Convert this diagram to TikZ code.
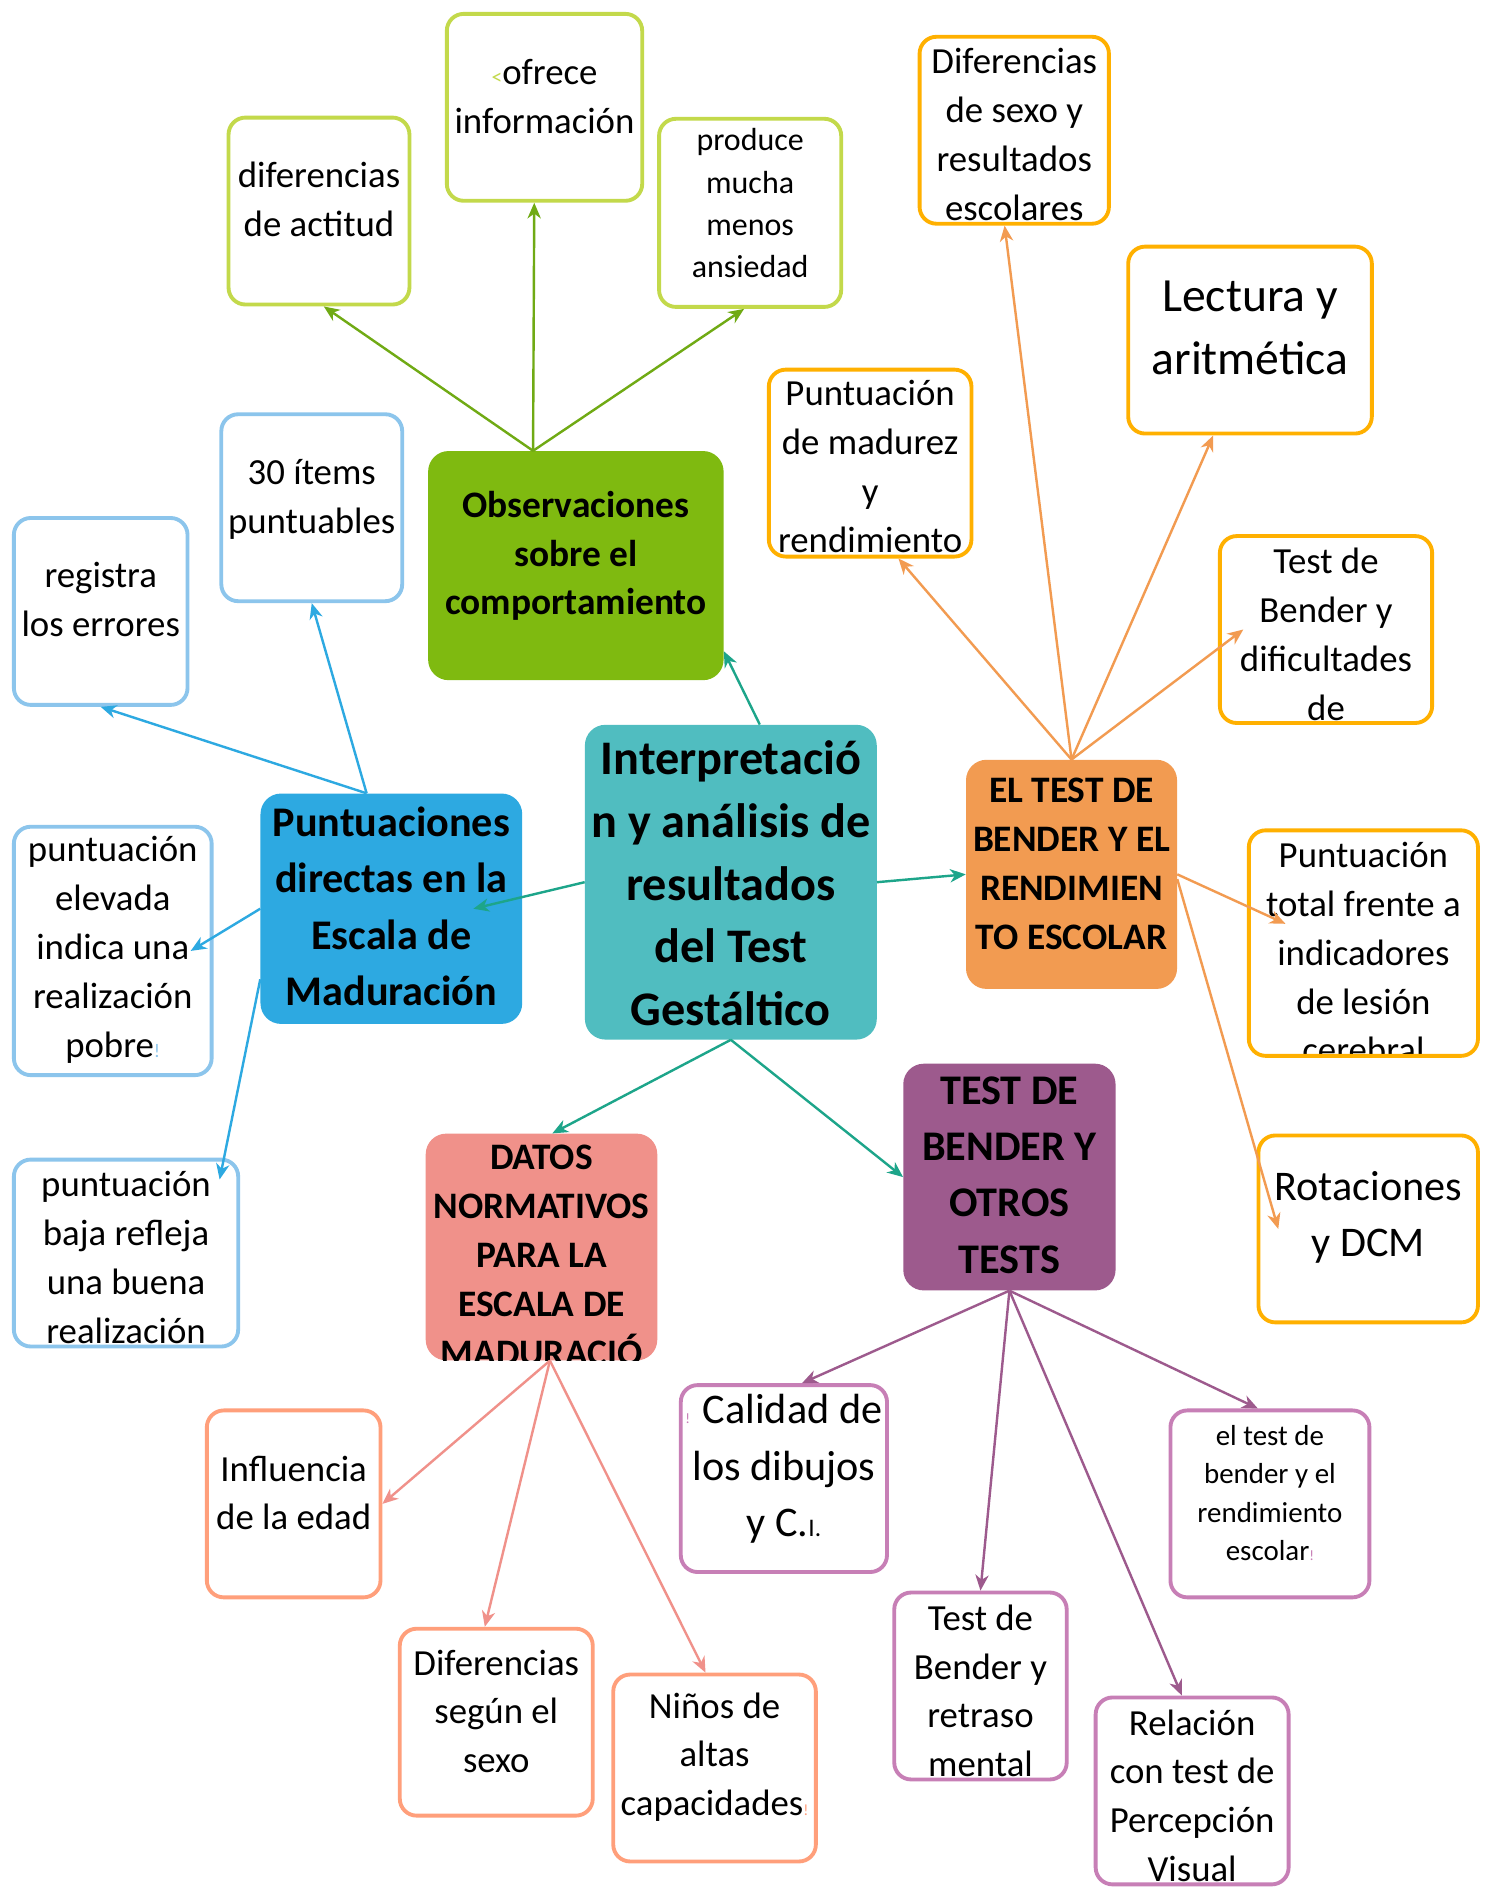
\documentclass[tikz,border=0pt]{standalone}
\usepackage{fontspec}
\setmainfont{Carlito}
\usetikzlibrary{arrows.meta}

\definecolor{obsfill}{RGB}{127,186,16}
\definecolor{obsline}{RGB}{112,170,20}
\definecolor{obsleaf}{RGB}{195,217,75}
\definecolor{cenfill}{RGB}{80,189,192}
\definecolor{cenline}{RGB}{29,165,138}
\definecolor{puntfill}{RGB}{45,169,225}
\definecolor{puntleaf}{RGB}{140,197,236}
\definecolor{bendfill}{RGB}{242,155,81}
\definecolor{bendleaf}{RGB}{255,176,0}
\definecolor{otrosfill}{RGB}{157,90,141}
\definecolor{otrosleaf}{RGB}{199,127,182}
\definecolor{datosfill}{RGB}{240,145,138}
\definecolor{datosleaf}{RGB}{255,159,123}

\newcommand\leaftext{\fontsize{30.5pt}{40.5pt}\selectfont}
\newcommand\hubtext{\bfseries\fontsize{31pt}{40.5pt}\selectfont}
\newcommand\bighubtext{\bfseries\fontsize{35pt}{46.5pt}\selectfont}
\newcommand\speck[3]{{\color{#1}\fontsize{#2pt}{#2pt}\selectfont #3}}

\tikzset{
	leaf/.style={draw=#1, fill=white, line width=3.2pt, rounded corners=14pt, inner sep=0pt},
	hub/.style={fill=#1, rounded corners=17pt, inner sep=0pt},
	boxsize/.style 2 args={minimum width=#1pt, minimum height=#2pt},
	words/.style={text=black, align=center, inner sep=0pt, font=\leaftext},
	says/.style 2 args={path picture={\node[words, #1] at (path picture bounding box.center) {#2};}},
	branch/.style={draw=#1, line width=2pt, -{Stealth[length=13pt, width=11pt, inset=4pt]}}
}

\begin{document}
\begin{tikzpicture}[x=1pt, y=-1pt]
	\path[use as bounding box, fill=white] (0,0) rectangle (1232,1568);

	%centre and hubs
	\node[hub=cenfill, boxsize={242}{261}, says={font=\bfseries\fontsize{40pt}{52pt}\selectfont, yshift=-1pt}{Interpretació\\n y análisis de\\resultados\\del Test\\Gestáltico}] (cen) at (606,731.5) {};
	\node[hub=obsfill, boxsize={245}{190}, says={font=\hubtext, yshift=8pt}{Observaciones\\sobre el\\comportamiento}] (obs) at (477.5,469) {};
	\node[hub=puntfill, boxsize={217}{191}, says={font=\bighubtext, yshift=2pt}{Puntuaciones\\directas en la\\Escala de\\Maduración}] (punt) at (324.5,753.5) {};
	\node[hub=bendfill, boxsize={175}{190}, says={font=\hubtext, yshift=8.5pt}{EL TEST DE\\BENDER Y EL\\RENDIMIEN\\TO ESCOLAR}] (bend) at (888.5,725) {};
	\node[hub=otrosfill, boxsize={176}{188}, says={font=\bighubtext, yshift=1.5pt}{TEST DE\\BENDER Y\\OTROS\\TESTS}] (otros) at (837,976) {};
	\node[hub=datosfill, boxsize={192}{188}, says={font=\hubtext, yshift=-7pt}{DATOS\\NORMATIVOS\\PARA LA\\ESCALA DE\\MADURACIÓ}] (datos) at (449,1034) {};

	%observaciones leaves
	\node[leaf=obsleaf, boxsize={150}{155}, says={yshift=10pt}{diferencias\\de actitud}] (difact) at (264.5,175) {};
	\node[leaf=obsleaf, boxsize={162}{155}, says={yshift=9pt}{\speck{obsleaf}{18}{<}ofrece\\información}] (ofrece) at (451.5,89) {};
	\node[leaf=obsleaf, boxsize={151}{156}, says={font=\fontsize{26.5pt}{35pt}\selectfont, yshift=8pt}{produce\\mucha\\menos\\ansiedad}] (produce) at (622,176.5) {};

	%puntuaciones leaves
	\node[leaf=puntleaf, boxsize={150}{155}, says={yshift=7pt}{30 ítems\\puntuables}] (items) at (258.5,421) {};
	\node[leaf=puntleaf, boxsize={144}{155}, says={yshift=10pt}{registra\\los errores}] (regis) at (83.5,507) {};
	\node[leaf=puntleaf, boxsize={164}{206}, says={yshift=1pt}{puntuación\\elevada\\indica una\\realización\\pobre\speck{puntleaf}{16}{!}}] (elev) at (93.5,788.5) {};
	\node[leaf=puntleaf, boxsize={186}{155}, says={yshift=-3.5pt}{puntuación\\baja refleja\\una buena\\realización}] (baja) at (104.5,1039) {};

	%rendimiento escolar leaves
	\node[leaf=bendleaf, boxsize={157}{155}, says={yshift=-3.5pt}{Diferencias\\de sexo y\\resultados\\escolares}] (difsex) at (841,108) {};
	\node[leaf=bendleaf, boxsize={202}{155}, says={font=\fontsize{39.5pt}{52pt}\selectfont, yshift=10pt}{Lectura y\\aritmética}] (lect) at (1036.5,282) {};
	\node[leaf=bendleaf, boxsize={168}{155}, says={yshift=-3pt}{Puntuación\\de madurez\\y\\rendimiento}] (madur) at (721.5,384) {};
	\node[leaf=bendleaf, boxsize={176}{155}, says={yshift=-4pt}{Test de\\Bender y\\dificultades\\de}] (dific) at (1099.5,522) {};
	\node[leaf=bendleaf, boxsize={190}{187}, says={yshift=-8pt}{Puntuación\\total frente a\\indicadores\\de lesión\\cerebral}] (lesion) at (1130.5,782) {};
	\node[leaf=bendleaf, boxsize={182}{155}, says={font=\fontsize{35pt}{47pt}\selectfont, yshift=9.5pt}{Rotaciones\\y DCM}] (rot) at (1134.5,1019) {};

	%otros tests leaves
	\node[leaf=otrosleaf, boxsize={171}{155}, says={font=\fontsize{35pt}{47pt}\selectfont, yshift=8pt}{\speck{otrosleaf}{12}{!} Calidad de\\los dibujos\\y C.\speck{black}{21}{I.}}] (calid) at (650,1226) {};
	\node[leaf=otrosleaf, boxsize={143}{155}, says={yshift=-4pt}{Test de\\Bender y\\retraso\\mental}] (retra) at (813,1398) {};
	\node[leaf=otrosleaf, boxsize={160}{155}, says={yshift=-4pt}{Relación\\con test de\\Percepción\\Visual}] (relac) at (988.5,1485) {};
	\node[leaf=otrosleaf, boxsize={165}{155}, says={font=\fontsize{24pt}{32pt}\selectfont, yshift=9pt}{el test de\\bender y el\\rendimiento\\escolar\speck{otrosleaf}{12}{!}}] (rend) at (1053,1247) {};

	%datos normativos leaves
	\node[leaf=datosleaf, boxsize={144}{155}, says={yshift=9pt}{Influencia\\de la edad}] (edad) at (243.5,1247) {};
	\node[leaf=datosleaf, boxsize={160}{155}, says={yshift=9pt}{Diferencias\\según el\\sexo}] (sexo) at (411.5,1428) {};
	\node[leaf=datosleaf, boxsize={168}{155}, says={yshift=9pt}{Niños de\\altas\\capacidades\speck{datosleaf}{13}{!}}] (ninos) at (592.5,1466) {};

	%from the centre
	\draw[branch=cenline] ([xshift=24pt]cen.north) -- ([yshift=-71pt]obs.east);
	\draw[branch=cenline] (cen.west) -- ([xshift=68pt]punt.center);
	\draw[branch=cenline] (cen.east) -- (bend.west);
	\draw[branch=cenline] (cen.south) -- ([xshift=9pt]datos.north);
	\draw[branch=cenline] (cen.south) -- (otros.west);

	%observaciones
	\draw[branch=obsline] ([xshift=-35.5pt]obs.north) -- ([xshift=4pt]difact.south);
	\draw[branch=obsline] ([xshift=-35.5pt]obs.north) -- ([xshift=-8.5pt]ofrece.south);
	\draw[branch=obsline] ([xshift=-35.5pt]obs.north) -- ([xshift=-5pt]produce.south);

	%puntuaciones
	\draw[branch=puntfill] ([xshift=-20.5pt]punt.north) -- (items.south);
	\draw[branch=puntfill] ([xshift=-20.5pt]punt.north) -- (regis.south);
	\draw[branch=puntfill] (punt.west) -- ([xshift=-19pt]elev.east);
	\draw[branch=puntfill] ([yshift=-58.5pt]punt.west) -- ([xshift=-17pt, yshift=61pt]baja.east);

	%rendimiento escolar
	\draw[branch=bendfill] (bend.north) -- ([xshift=-8pt]difsex.south);
	\draw[branch=bendfill] (bend.north) -- ([xshift=-30.5pt]lect.south);
	\draw[branch=bendfill] (bend.north) -- ([xshift=23.5pt]madur.south);
	\draw[branch=bendfill] (bend.north) -- ([xshift=21pt]dific.west);
	\draw[branch=bendfill] (bend.east) -- ([xshift=32pt, yshift=16pt]lesion.west);
	\draw[branch=bendfill] ([yshift=-4pt]bend.east) -- ([xshift=18pt]rot.west);

	%otros tests
	\draw[branch=otrosfill] (otros.south) -- ([xshift=15pt]calid.north);
	\draw[branch=otrosfill] (otros.south) -- (retra.north);
	\draw[branch=otrosfill] (otros.south) -- ([xshift=-8.5pt]relac.north);
	\draw[branch=otrosfill] (otros.south) -- ([xshift=-10pt]rend.north);

	%datos normativos
	\draw[branch=datosfill] ([xshift=7pt]datos.south) -- (edad.east);
	\draw[branch=datosfill] ([xshift=7pt]datos.south) -- ([xshift=-9.5pt]sexo.north);
	\draw[branch=datosfill] ([xshift=7pt]datos.south) -- ([xshift=-7.5pt]ninos.north);
\end{tikzpicture}
\end{document}
